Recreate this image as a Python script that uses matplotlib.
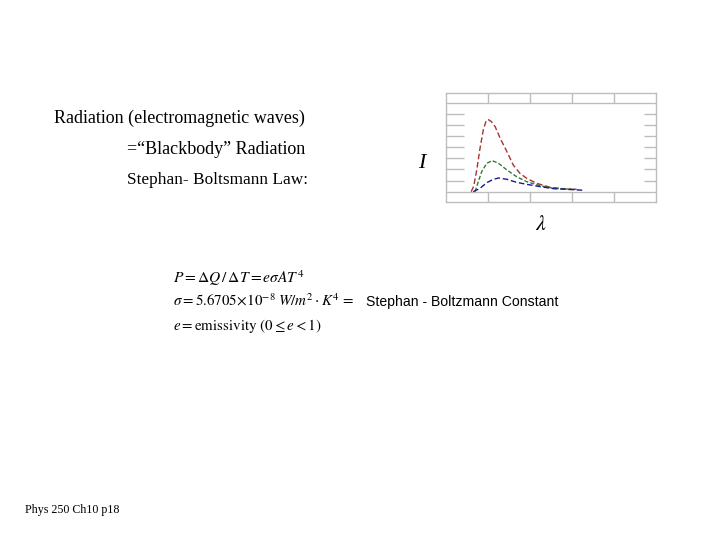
import numpy as np
import matplotlib
matplotlib.use("Agg")
import matplotlib.pyplot as plt

# curves (x in grid columns, y in grid rows)
red_x = [0.60, 0.66, 0.73, 0.81, 0.89, 0.95, 1.00, 1.08, 1.17, 1.29, 1.45,
         1.60, 1.76, 1.92, 2.16, 2.48, 2.87, 3.15]
red_y = [0.0, 0.5, 1.9, 3.9, 5.6, 6.3, 6.5, 6.3, 5.85, 4.8, 3.6,
         2.4, 1.65, 1.2, 0.75, 0.39, 0.24, 0.18]
green_x = [0.69, 0.77, 0.85, 0.97, 1.10, 1.25, 1.45, 1.68, 1.92, 2.24,
           2.56, 2.87, 3.11]
green_y = [0.0, 0.9, 1.8, 2.55, 2.79, 2.55, 1.95, 1.35, 0.9, 0.54,
           0.30, 0.24, 0.21]
blue_x = [0.65, 0.81, 0.97, 1.13, 1.25, 1.45, 1.68, 1.92, 2.24, 2.56,
          2.87, 3.31]
blue_y = [0.0, 0.30, 0.81, 1.11, 1.23, 1.11, 0.84, 0.66, 0.45, 0.27,
          0.21, 0.12]

W, H = 720, 540
fig = plt.figure(figsize=(7.2, 5.4), dpi=100)
fig.patch.set_facecolor("white")


def px(x, y):
    return x / W, 1 - y / H


def fs(pixels):
    return pixels * 72.0 / 100


serif = "Liberation Serif"

fig.text(*px(54, 123), "Radiation (electromagnetic waves)", family=serif,
         fontsize=fs(18), va="baseline")
fig.text(*px(127, 154), "=\u201cBlackbody\u201d Radiation", family=serif,
         fontsize=fs(18), va="baseline")
fig.text(*px(127, 184), "Stephan- Boltsmann Law:", family=serif,
         fontsize=fs(17.3), va="baseline")
fig.text(*px(25, 513), "Phys 250 Ch10 p18", family=serif,
         fontsize=fs(12), va="baseline")

plt.rcParams["mathtext.fontset"] = "stix"
eq_size = fs(15.5)
fig.text(*px(173, 283), r"$P = \Delta Q\,/\,\Delta T = e\sigma A T^{4}$",
         fontsize=eq_size, va="baseline")
fig.text(*px(173, 306),
         r"$\sigma = 5.6705\!\times\!10^{-8}\;W/m^{2}\cdot K^{4}\,=$",
         fontsize=fs(15), va="baseline")
fig.text(*px(366, 306), "Stephan - Boltzmann Constant",
         family="Liberation Sans", fontsize=fs(14), va="baseline")
fig.text(*px(173, 330), r"$e = \mathrm{emissivity}\ (0 \leq e < 1)$",
         fontsize=fs(15), va="baseline")

# axis letters
fig.text(*px(418, 168), "I", family=serif, style="italic",
         fontsize=fs(22), va="baseline")
fig.text(*px(535, 230), r"$\lambda$", fontsize=fs(22), va="baseline")

# small chart
l, r, t, b = 446, 656, 92.7, 202
ax = fig.add_axes([l / W, 1 - b / H, (r - l) / W, (b - t) / H])
ax.set_xlim(0, 5)
ax.set_ylim(-0.93, 8.9)
gray = "#bdbdbd"
for s in ax.spines.values():
    s.set_color(gray)
    s.set_linewidth(1)
ax.set_xticks([])
ax.set_yticks([])

ax.axhline(0, color=gray, lw=1)
ax.axhline(8, color=gray, lw=1)
for xv in [1, 2, 3, 4]:
    ax.vlines(xv, -0.93, 0, color=gray, lw=1)
    ax.vlines(xv, 8, 8.9, color=gray, lw=1)
for yv in range(1, 8):
    ax.hlines(yv, 0, 0.43, color=gray, lw=1)
    ax.hlines(yv, 4.72, 5, color=gray, lw=1)

ax.plot(red_x, red_y, color="#a83232", lw=1, dashes=(4, 2))
ax.plot(green_x, green_y, color="#2e7d32", lw=1, dashes=(3, 1.5))
ax.plot(blue_x, blue_y, color="#1a1a8c", lw=1, dashes=(4, 2))

fig.savefig("out.png", dpi=100)
plt.close(fig)
